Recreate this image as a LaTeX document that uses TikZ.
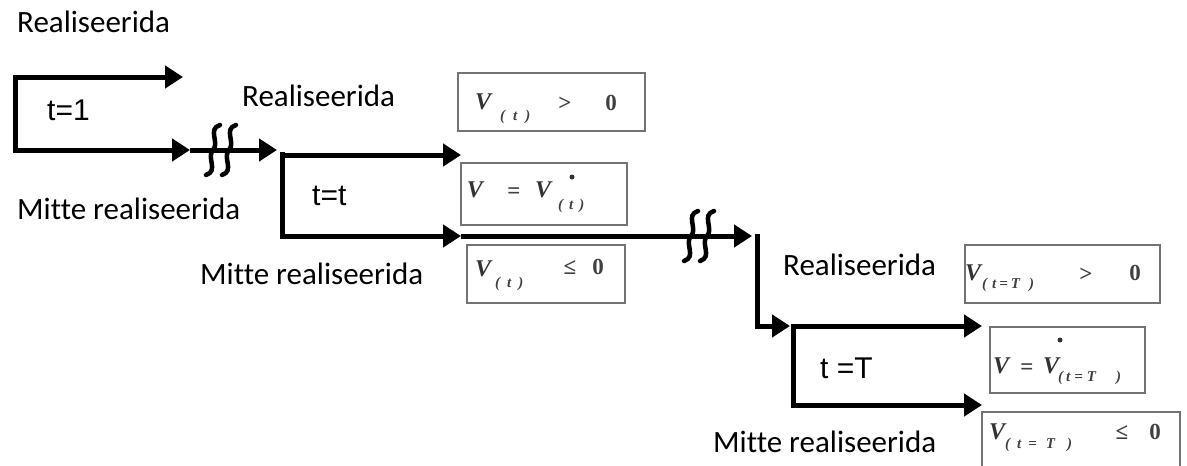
\documentclass[tikz,border=0pt]{standalone}
\usepackage{fontspec}
\setmainfont{Carlito}[Ligatures=NoCommon]
\newfontfamily\stagefont{Liberation Sans}
\newfontfamily\eqfont{Liberation Serif}
\usetikzlibrary{arrows.meta}

% one wavy stroke of a break mark, centred on (#1,#2)
\newcommand\breakstroke[2]{%
  \draw[brk] (#1+7,#2-25) .. controls (#1-6,#2-21) and (#1+7,#2-7) .. (#1,#2)
             .. controls (#1-7,#2+7) and (#1+6,#2+21) .. (#1-7,#2+25);}

\begin{document}
\begin{tikzpicture}[x=1pt,y=-1pt,
  wire/.style={line width=5pt, line join=miter},
  flow/.style={wire, -{Triangle[length=18pt,width=22pt]}},
  flow2/.style={wire, {Triangle[length=18pt,width=22pt]}-{Triangle[length=18pt,width=22pt]}},
  brk/.style={line width=4.5pt, line cap=round},
  lbl/.style={font=\fontsize{31}{31}\selectfont, inner sep=0pt, anchor=base west},
  stage/.style={font=\stagefont\fontsize{30}{30}\selectfont, inner sep=0pt, anchor=base west},
  vbox/.style={draw=black!55, line width=1.8pt, inner sep=0pt},
  eqv/.style={font=\eqfont\bfseries\itshape\fontsize{24}{24}\selectfont, text=black!80, inner sep=0pt},
  eqop/.style={font=\eqfont\bfseries\fontsize{23}{23}\selectfont, text=black!75, inner sep=0pt},
  eqsub/.style={font=\eqfont\bfseries\itshape\fontsize{15}{15}\selectfont, text=black!75, inner sep=0pt, anchor=west},
  stardot/.style={circle, fill=black!80, minimum size=5pt, inner sep=0pt}
]
\useasboundingbox (0,0) rectangle (1187,466);

% ---------- stage t = 1 ----------
\coordinate (s1t)  at (15,77);
\coordinate (s1b)  at (15,150);
\coordinate (s1tx) at (183,77);
\coordinate (s1bx) at (190,150);
\coordinate (s2in) at (277,150);
\draw[flow2] (s1tx) -- (s1t) -- (s1b) -- (s1bx);
\draw[flow] (s1bx) -- (s2in);
\breakstroke{213}{150}
\breakstroke{229}{150}

% ---------- stage t = t ----------
\coordinate (s2t)  at (282,152);
\coordinate (s2tl) at (282,155);
\coordinate (s2b)  at (282,236);
\coordinate (s2tx) at (461,155);
\coordinate (s2bx) at (461,236);
\coordinate (s3in) at (752,236);
\draw[wire] (s2t) -- (s2tl);
\draw[flow2] (s2tx) -- (s2tl) -- (s2b) -- (s2bx);
\draw[flow] (s2bx) -- (s3in);
\breakstroke{691}{236}
\breakstroke{707}{236}

% drop down to the last stage
\coordinate (d3t) at (757,233.5);
\coordinate (d3b) at (757,326);
\coordinate (d3x) at (790,326);
\draw[flow] (d3t) -- (d3b) -- (d3x);

% ---------- stage t = T ----------
\coordinate (s3t)  at (793,326);
\coordinate (s3b)  at (793,405);
\coordinate (s3tx) at (982,326);
\coordinate (s3bx) at (982,405);
\draw[flow2] (s3tx) -- (s3t) -- (s3b) -- (s3bx);

% ---------- labels ----------
\node[lbl] (r1) at (17,32)   {Realiseerida};
\node[lbl] (m1) at (17,219)  {Mitte realiseerida};
\node[lbl] (r2) at (242,106) {Realiseerida};
\node[lbl] (m2) at (200,284) {Mitte realiseerida};
\node[lbl] (r3) at (783,275) {Realiseerida};
\node[lbl] (m3) at (713,452) {Mitte realiseerida};

\node[stage] (t1) at (47,120)  {t=1};
\node[stage] (tt) at (312,205) {t=t};
\node[stage] (tT) at (820,378) {t =T};

% ---------- outcome boxes ----------
\node[vbox, minimum width=187pt, minimum height=58pt] (box1) at (551.5,102) {};
\node[vbox, minimum width=166pt, minimum height=62pt] (box2) at (544,194) {};
\node[vbox, minimum width=158pt, minimum height=58pt] (box3) at (546,274) {};
\node[vbox, minimum width=195pt, minimum height=58pt] (box4) at (1062.5,274) {};
\node[vbox, minimum width=155pt, minimum height=66pt] (box5) at (1067.5,360) {};
\node[inner sep=0pt, minimum width=198pt, minimum height=54pt] (box6) at (1081,439) {};
\draw[draw=black!55, line width=1.8pt]
  (box6.south west) -- (box6.north west) -- (box6.north east) -- (box6.south east);

% V(t) > 0
\node[eqv]  (b1v) at (483,102) {V};
\node[eqsub](b1s) at (500,117) {(\hspace{8pt}t\hspace{8pt})};
\node[eqop] (b1o) at (565,104) {>};
\node[eqop] (b1z) at (611,103) {0};

% V = V*(t)
\node[eqv]  (b2v) at (475,190) {V};
\node[eqop] (b2o) at (514,193) {=};
\node[eqv]  (b2w) at (543,190) {V};
\node[stardot] (b2d) at (572,177) {};
\node[eqsub](b2s) at (558,206) {(\hspace{6pt}t\hspace{6pt})};

% V(t) <= 0
\node[eqv]  (b3v) at (483,269) {V};
\node[eqsub](b3s) at (495,284) {(\hspace{7pt}t\hspace{7pt})};
\node[eqop] (b3o) at (570,268) {≤};
\node[eqop] (b3z) at (598,267) {0};

% V(t=T) > 0
\node[eqv]  (b4v) at (973,273) {V};
\node[eqsub](b4s) at (982,285) {(\hspace{5pt}t\hspace{3pt}=\hspace{3pt}T\hspace{9pt})};
\node[eqop] (b4o) at (1086,275) {>};
\node[eqop] (b4z) at (1135,273) {0};

% V = V*(t=T)
\node[eqv]  (b5v) at (1001,366) {V};
\node[eqop] (b5o) at (1027,369) {=};
\node[eqv]  (b5w) at (1051,366) {V};
\node[stardot] (b5d) at (1060,340) {};
\node[eqsub](b5s) at (1058,378) {(\hspace{3pt}t\hspace{4pt}=\hspace{4pt}T\hspace{20pt})};

% V(t=T) <= 0
\node[eqv]  (b6v) at (997,432) {V};
\node[eqsub](b6s) at (1005,445) {(\hspace{7pt}t\hspace{7pt}=\hspace{9pt}T\hspace{12pt})};
\node[eqop] (b6o) at (1122,433) {≤};
\node[eqop] (b6z) at (1155,432) {0};
\end{tikzpicture}
\end{document}
